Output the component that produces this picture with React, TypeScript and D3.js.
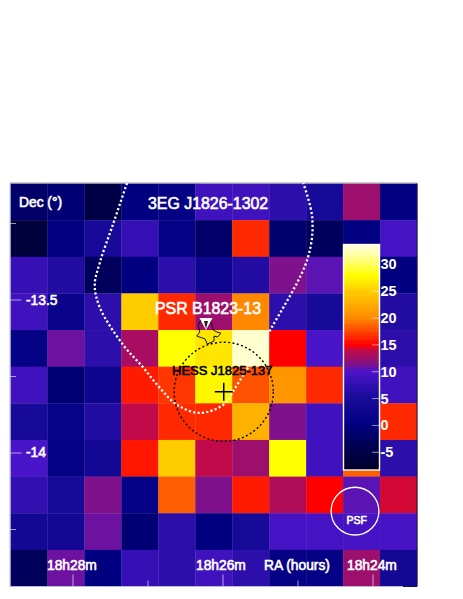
import * as d3 from "d3";
import { useEffect, useRef } from "react";

const width = 463;
const height = 599;

// excess map, rows top to bottom, columns left to right
const row0 = [-2, -1, -5, 0, 1, 9, 9, 7, 5, 12.5, 0.5];
const row1 = [-6, 0.5, 5, 8, 1, -2, 16.5, -1.5, -3, 0.5, 9.5];
const row2 = [8, 6, -3, 0, 7, 3, 6, 11.5, 10.5, 4, 0];
const row3 = [9, 2, 7, 25, 16.5, 12.5, 20, 7, 5, 6, 6];
const row4 = [1, 11, 7, 13, 28, 26.5, 33, 15, 10, 8, 7];
const row5 = [9, -1, 3, 16, 17, 27.5, 18, 21, 16.5, 5, 9];
const row6 = [5, 1.5, 6, 14, 16.5, 16.5, 23, 11.5, 9, 3, 16.5];
const row7 = [10, 1, 4, 15.8, 25, 14, 12.5, 28, 9, 18.5, 7];
const row8 = [7.5, 5, 11.5, 1, 18.5, 11.5, 16, 13.3, 15, 10.5, 14.3];
const row9 = [4, 4, 11, -1, 7, 0, 5, 9.5, 9.5, 9.5, 9.5];
const row10 = [-3, 11, 0, 8, 7, 9, 7, 1, 1, 12.5, 4];
const rows = [row0, row1, row2, row3, row4, row5, row6, row7, row8, row9, row10];

const colorStops = [-8.3, -4, 0, 5, 10, 12, 14, 15, 20, 25, 28, 31, 33.7];
const colorValues = ["#000028", "#000050", "#000080", "#180a98", "#4a14c8", "#901078", "#c00a4a", "#ff0000", "#ff8800", "#ffcc00", "#ffff00", "#ffff80", "#ffffe8"];

const barTicks = [30, 25, 20, 15, 10, 5, 0, -5];
const raMajor = [28, 26, 24];
const raMinor = [27, 25];
const decMajor = [-13.5, -14];
const decMinor = [-13.25, -13.75, -14.25];

// 3EG contour, RA in minutes past 18h, Dec in degrees
const contourRa = [27.28, 27.47, 27.64, 27.71, 27.64, 27.33, 27.07, 26.84, 26.61, 26.31, 26.0, 25.84, 25.37, 24.87, 24.81, 24.93];
const contourDec = [-13.118, -13.255, -13.376, -13.451, -13.526, -13.647, -13.719, -13.788, -13.843, -13.869, -13.843, -13.788, -13.598, -13.363, -13.232, -13.118];

// X-ray nebula outline round the pulsar
const nebulaRa = [26.28, 26.33, 26.31, 26.35, 26.24, 26.21, 26.12, 26.12, 26.07, 26.03, 26.08, 26.13, 26.17];
const nebulaDec = [-13.559, -13.582, -13.605, -13.618, -13.627, -13.644, -13.634, -13.618, -13.621, -13.608, -13.605, -13.598, -13.565];

const pulsar = { ra: 26.227, dec: -13.572 };
const hess = { ra: 25.99, dec: -13.8, r: 0.162 };
const psf = { ra: 24.24, dec: -14.19, r: 0.078 };

const sans = "'Liberation Sans', Arial, sans-serif";

export default function App() {
  const ref = useRef<SVGSVGElement>(null);

  useEffect(() => {
    if (!ref.current) return;
    const svg = d3.select(ref.current);
    svg.selectAll("*").remove();

    const x0 = 10.5, x1 = 417, y0 = 183.5, y1 = 586.5;
    const ra = d3.scaleLinear().domain([28, 24]).range([73, 373]);
    const dec = d3.scaleLinear().domain([-13.5, -14]).range([300, 453]);
    const col = d3.scaleBand<number>().domain(d3.range(11)).range([x0, x1]);
    const row = d3.scaleBand<number>().domain(d3.range(11)).range([y0, y1]);
    const color = d3.scaleLinear<string>().domain(colorStops).range(colorValues);
    const pxPerDeg = dec(-14) - dec(-13);

    const cells = svg.append("g");
    rows.forEach((vals, j) => {
      cells.selectAll(null)
        .data(vals)
        .enter()
        .append("rect")
        .attr("x", (_, i) => col(i)!)
        .attr("y", row(j)!)
        .attr("width", col.bandwidth() + 0.3)
        .attr("height", row.bandwidth() + 0.3)
        .attr("fill", d => color(d));
    });

    // frame
    svg.append("path").attr("d", `M${x0 - 0.5},${y0 - 0.5}H${x1}`).attr("stroke", "#9a9a9a").attr("fill", "none");
    svg.append("path").attr("d", `M${x0 - 0.5},${y0}V${y1}H403`).attr("stroke", "#b8b8e0").attr("fill", "none");
    svg.append("path").attr("d", `M403,${y1}H${x1}V${y0}`).attr("stroke", "#1a1040").attr("fill", "none");

    // axis ticks
    const tickColor = "rgba(255,255,255,0.6)";
    const vTick = (v: number, len: number) =>
      svg.append("line").attr("x1", ra(v)).attr("x2", ra(v)).attr("y1", y1).attr("y2", y1 - len)
        .attr("stroke", tickColor).attr("stroke-width", 1);
    const hTick = (v: number, len: number) =>
      svg.append("line").attr("x1", x0).attr("x2", x0 + len).attr("y1", dec(v)).attr("y2", dec(v))
        .attr("stroke", tickColor).attr("stroke-width", 1);
    raMajor.forEach(v => vTick(v, 12));
    raMinor.forEach(v => vTick(v, 6));
    decMajor.forEach(v => hTick(v, 11));
    decMinor.forEach(v => hTick(v, 5.5));

    // white 3EG contour
    const line = d3.line<number>()
      .x(d => ra(contourRa[d]))
      .y(d => dec(contourDec[d]))
      .curve(d3.curveCatmullRom);
    svg.append("path")
      .attr("d", line(d3.range(contourRa.length)))
      .attr("fill", "none")
      .attr("stroke", "#fff")
      .attr("stroke-width", 2.3)
      .attr("stroke-dasharray", "2.2 2.2");

    // HESS source
    svg.append("circle")
      .attr("cx", ra(hess.ra))
      .attr("cy", dec(hess.dec))
      .attr("r", hess.r * pxPerDeg)
      .attr("fill", "none")
      .attr("stroke", "#000")
      .attr("stroke-width", 1.4)
      .attr("stroke-dasharray", "2 2.4");
    svg.append("path")
      .attr("d", `M${ra(hess.ra) - 9},${dec(hess.dec)}h18M${ra(hess.ra)},${dec(hess.dec) - 9}v18`)
      .attr("stroke", "#000")
      .attr("stroke-width", 1.5);

    // nebula and pulsar
    const nebula = d3.line<number>()
      .x(d => ra(nebulaRa[d]))
      .y(d => dec(nebulaDec[d]))
      .curve(d3.curveLinearClosed);
    svg.append("path")
      .attr("d", nebula(d3.range(nebulaRa.length)))
      .attr("fill", "none")
      .attr("stroke", "#000")
      .attr("stroke-width", 0.9);
    const px = ra(pulsar.ra), py = dec(pulsar.dec);
    svg.append("path")
      .attr("d", `M${px - 6.5},${py - 4}L${px + 6.5},${py - 4}L${px},${py + 8}Z`)
      .attr("fill", "#fff");
    svg.append("path")
      .attr("d", `M${px - 2},${py - 1}L${px + 2},${py - 1}L${px},${py + 7}Z`)
      .attr("fill", "#222");

    // PSF
    svg.append("circle")
      .attr("cx", ra(psf.ra))
      .attr("cy", dec(psf.dec))
      .attr("r", psf.r * pxPerDeg)
      .attr("fill", "none")
      .attr("stroke", "#fff")
      .attr("stroke-width", 1.3);

    // colour bar
    const bar = d3.scaleLinear().domain([33.7, -8.3]).range([244.5, 470]);
    const steps = d3.range(-8.3, 33.7, 0.5);
    svg.append("g").attr("shape-rendering", "crispEdges").selectAll("rect")
      .data(steps)
      .enter()
      .append("rect")
      .attr("x", 343.5)
      .attr("width", 36)
      .attr("y", d => bar(d + 0.5))
      .attr("height", d => bar(d) - bar(d + 0.5) + 0.3)
      .attr("fill", d => color(d + 0.25));
    svg.append("rect")
      .attr("x", 343.5).attr("y", 244.5).attr("width", 36).attr("height", 225.5)
      .attr("fill", "none").attr("stroke", "#fff").attr("stroke-width", 1.4);
    barTicks.forEach(t => {
      svg.append("line")
        .attr("x1", 372).attr("x2", 379)
        .attr("y1", bar(t)).attr("y2", bar(t))
        .attr("stroke", "rgba(255,255,255,0.55)");
      svg.append("text")
        .attr("x", 380.5)
        .attr("y", bar(t) + 5)
        .attr("fill", "#fff")
        .attr("font-size", 14.5)
        .attr("font-weight", "bold")
        .attr("font-family", sans)
        .text(t);
    });

    // labels
    const label = (s: string, x: number, y: number, size: number, fill = "#fff") =>
      svg.append("text")
        .attr("x", x).attr("y", y)
        .attr("fill", fill)
        .attr("font-size", size)
        .attr("font-weight", "normal")
        .attr("stroke", fill)
        .attr("stroke-width", 0.6)
        .attr("font-family", sans)
        .text(s);

    label("Dec (\u00b0)", 19, 207, 13.8);
    label("3EG J1826-1302", 148, 209, 15.9);
    label("-13.5", 26, 305, 13.8);
    label("-14", 26, 457, 13.8);
    label("PSR B1823-13", 155, 314, 15.9);
    label("HESS J1825-137", 172, 375, 13, "#000");
    label("PSF", 346.5, 524, 10.5);
    label("18h28m", 47, 570, 13.8);
    label("18h26m", 196, 570, 13.8);
    label("RA (hours)", 264, 570, 13.8);
    label("18h24m", 347, 570, 13.8);
  }, []);

  return (
    <svg
      ref={ref}
      width={width}
      height={height}
      style={{ position: "absolute", left: 0, top: 0, display: "block", background: "#fff" }}
    />
  );
}
